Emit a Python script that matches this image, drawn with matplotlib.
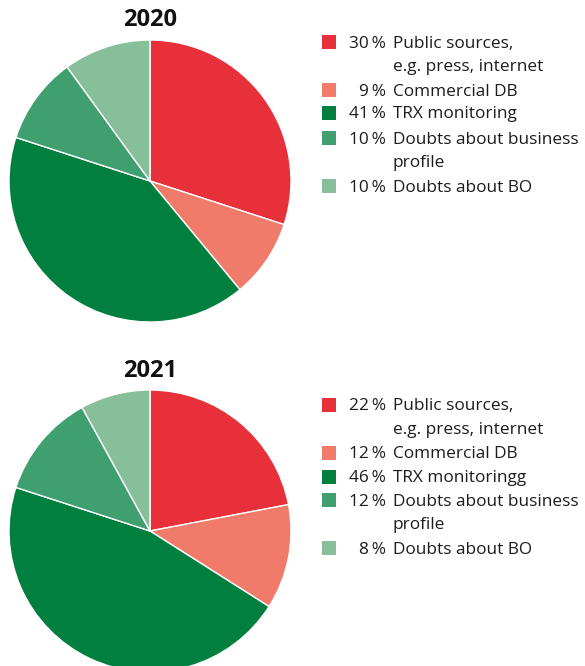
import matplotlib
matplotlib.use("Agg")
import matplotlib.pyplot as plt
from matplotlib.patches import Rectangle

plt.rcParams['font.family'] = ['Open Sans', 'DejaVu Sans']

# Reasons for suspicious activity reports, share in %
categories = ["Public sources,\ne.g. press, internet", "Commercial DB", "TRX monitoring",
              "Doubts about business\nprofile", "Doubts about BO"]
categories_2021 = ["Public sources,\ne.g. press, internet", "Commercial DB", "TRX monitoringg",
                   "Doubts about business\nprofile", "Doubts about BO"]
values_2020 = [30, 9, 41, 10, 10]
values_2021 = [22, 12, 46, 12, 8]
years = ["2020", "2021"]

colors = ["#E8303A", "#F07B6B", "#007F3F", "#3F9F6E", "#86BF9A"]

W, H = 585, 666
TEXT_SIZE = 12.4
LINE_STEP = 23.5
fig = plt.figure(figsize=(W / 100, H / 100), dpi=100)


def px_axes(x0, y0, x1, y1):
    # axes placed by a pixel box measured from the top-left corner
    return fig.add_axes([x0 / W, (H - y1) / H, (x1 - x0) / W, (y1 - y0) / H])


def fy(y):
    return 1 - y / H


def draw_block(year, values, labels, cy, title_y, legend_rows):
    ax = px_axes(9, cy - 141, 291, cy + 141)
    ax.pie(values, colors=colors, startangle=90, counterclock=False,
           wedgeprops=dict(edgecolor="white", linewidth=1.0))
    ax.set_xlim(-1, 1)
    ax.set_ylim(-1, 1)
    ax.set_aspect("equal")
    fig.text(150 / W, fy(title_y), year, ha="center", va="center",
             fontsize=17, fontweight="bold", color="#111111")
    for val, lab, col, ry in zip(values, labels, colors, legend_rows):
        fig.patches.append(Rectangle((322 / W, fy(ry + 7)), 14 / W, 14 / H,
                                     transform=fig.transFigure, facecolor=col,
                                     edgecolor="none"))
        base = ry + 5.5
        fig.text(386 / W, fy(base), f"{val}\u2009%", ha="right", va="baseline",
                 fontsize=TEXT_SIZE, color="#1c1c1c")
        for i, line in enumerate(lab.split("\n")):
            fig.text(393 / W, fy(base + i * LINE_STEP), line, ha="left",
                     va="baseline", fontsize=TEXT_SIZE, color="#1c1c1c")


rows_2020 = [42, 90, 113, 138, 186]
rows_2021 = [405, 453, 477, 500, 548]

draw_block(years[0], values_2020, categories, 181, 20, rows_2020)
draw_block(years[1], values_2021, categories_2021, 531, 371, rows_2021)

fig.savefig("out.png", dpi=100)
